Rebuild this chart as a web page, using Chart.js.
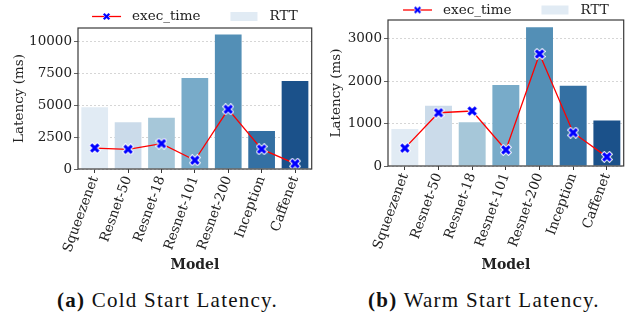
<!DOCTYPE html>
<html>
<head>
<meta charset="utf-8">
<script src="https://cdn.jsdelivr.net/npm/chart.js@4.4.1/dist/chart.umd.min.js"></script>
<style>
  body { margin: 0; background: #fff; width: 630px; height: 316px; position: relative; overflow: hidden; }
  .caja { position: absolute; top: 0; }
  .pie { position: absolute; top: 290px; font-family: "Liberation Serif", serif; font-size: 21px; line-height: 20px;
         color: #111; white-space: nowrap; transform: translateX(-50%); letter-spacing: 1.25px; }
</style>
</head>
<body>
<div class="caja" style="left:0;width:318px;height:274px"><canvas id="graficoFrio" width="318" height="274"></canvas></div>
<div class="caja" style="left:318px;width:312px;height:274px"><canvas id="graficoCaliente" width="312" height="274"></canvas></div>
<div class="pie" style="left:167.5px"><b>(a)</b> Cold Start Latency.</div>
<div class="pie" style="left:484px"><b>(b)</b> Warm Start Latency.</div>
<script>
// Datos
const modelos = ['Squeezenet', 'Resnet-50', 'Resnet-18', 'Resnet-101', 'Resnet-200', 'Inception', 'Caffenet'];
const rttFrio = [4860, 3680, 4040, 7160, 10580, 2990, 6930];
const execFrio = [1650, 1550, 2000, 690, 4700, 1560, 420];
const rttCaliente = [870, 1420, 1030, 1910, 3270, 1890, 1070];
const execCaliente = [420, 1255, 1295, 380, 2640, 785, 215];
const ticksFrio = [0, 2500, 5000, 7500, 10000];
const ticksCaliente = [0, 1000, 2000, 3000];
const maxFrio = 11100;
const maxCaliente = 3440;

// paleta Blues (desaturada como seaborn)
const coloresBarras = ['#e1ebf4', '#cbdbea', '#a6c7d9', '#78abc9', '#538fb6', '#3470a3', '#1b518a'];
const fuente = '"DejaVu Serif", serif';
const colorTexto = '#222';

// marcador X relleno con borde blanco
function crearMarca(tam, borde) {
    const s = Math.ceil(tam + borde * 2 + 2);
    const c = document.createElement('canvas');
    c.width = s; c.height = s;
    const g = c.getContext('2d');
    g.translate(s / 2, s / 2);
    g.rotate(Math.PI / 4);
    const L = tam / 2 * Math.SQRT2 * 0.92, t = tam * 0.19;
    g.beginPath();
    g.moveTo(-t, -L); g.lineTo(t, -L); g.lineTo(t, -t); g.lineTo(L, -t); g.lineTo(L, t); g.lineTo(t, t);
    g.lineTo(t, L); g.lineTo(-t, L); g.lineTo(-t, t); g.lineTo(-L, t); g.lineTo(-L, -t); g.lineTo(-t, -t);
    g.closePath();
    if (borde) { g.lineWidth = borde * 2; g.strokeStyle = '#fff'; g.stroke(); }
    g.fillStyle = '#0000ff';
    g.fill();
    return c;
}
const marca = crearMarca(8, 1);
const marcaLeyenda = crearMarca(6, 0.5);

// leyenda estilo matplotlib centrada sobre el area del grafico
const leyendaMpl = {
    id: 'leyendaMpl',
    afterDraw(chart, args, opts) {
        const { ctx, chartArea } = chart;
        const [linea, barras] = [chart.data.datasets[1], chart.data.datasets[0]];
        ctx.save();
        ctx.font = '13.5px ' + fuente;
        const w1 = ctx.measureText(linea.label).width;
        const w2 = ctx.measureText(barras.label).width;
        const total = 29 + 11 + w1 + 30 + 27 + 12 + w2;
        let x = (chartArea.left + chartArea.right) / 2 - total / 2;
        const y = chartArea.top + opts.dy;
        ctx.strokeStyle = '#ff0000';
        ctx.lineWidth = 1.3;
        ctx.beginPath(); ctx.moveTo(x, y); ctx.lineTo(x + 29, y); ctx.stroke();
        ctx.drawImage(marcaLeyenda, x + 14.5 - marcaLeyenda.width / 2, y - marcaLeyenda.height / 2);
        x += 40;
        ctx.fillStyle = colorTexto;
        ctx.textBaseline = 'middle';
        ctx.fillText(linea.label, x, y);
        x += w1 + 30;
        ctx.fillStyle = coloresBarras[0];
        ctx.fillRect(x, y - 4.5, 27, 9);
        x += 27 + 12;
        ctx.fillStyle = colorTexto;
        ctx.fillText(barras.label, x, y);
        ctx.restore();
    }
};

// marco de los cuatro lados
const marco = {
    id: 'marco',
    afterDraw(chart) {
        const { ctx, chartArea: a } = chart;
        ctx.save();
        ctx.strokeStyle = '#3a3a3a';
        ctx.lineWidth = 1.2;
        ctx.strokeRect(a.left, a.top, a.right - a.left, a.bottom - a.top);
        ctx.restore();
    }
};

function crearGrafico(id, rtt, exec, ticks, yMax, d) {
    const ctx = document.getElementById(id).getContext('2d');
    return new Chart(ctx, {
        type: 'bar',
        data: {
            labels: modelos,
            datasets: [{
                label: 'RTT',
                data: rtt,
                backgroundColor: coloresBarras,
                borderWidth: 0,
                barPercentage: 0.8,
                categoryPercentage: 1,
                order: 2
            }, {
                type: 'line',
                label: 'exec_time',
                data: exec,
                borderColor: '#ff0000',
                borderWidth: 1.3,
                pointStyle: marca,
                pointRadius: 5,
                fill: false,
                order: 1
            }]
        },
        options: {
            responsive: false,
            animation: false,
            layout: { padding: { left: d.padLeft, right: d.padRight, top: d.top, bottom: 0 } },
            plugins: {
                legend: { display: false },
                tooltip: { enabled: false },
                leyendaMpl: { dy: d.dy }
            },
            scales: {
                x: {
                    offset: true,
                    grid: { drawOnChartArea: false, drawTicks: true, tickLength: 4, tickColor: '#3a3a3a', offset: false },
                    border: { display: false },
                    ticks: { color: colorTexto, font: { family: fuente, size: 13.5 }, minRotation: 70, maxRotation: 70, autoSkip: false, padding: 1 },
                    title: { display: true, text: 'Model', color: colorTexto, font: { family: fuente, size: 14, weight: 'bold' }, padding: 0 },
                    afterFit: (s) => { s.height = d.xHeight; }
                },
                y: {
                    min: 0,
                    max: yMax,
                    afterBuildTicks: (s) => { s.ticks = ticks.map(v => ({ value: v })); },
                    grid: { color: '#cccccc', lineWidth: 0.8, tickColor: '#3a3a3a', tickLength: 4 },
                    border: { display: false, dash: [2, 2] },
                    ticks: { color: colorTexto, font: { family: fuente, size: 13.5 }, padding: 2, callback: v => String(v) },
                    title: { display: true, text: 'Latency (ms)', color: colorTexto, font: { family: fuente, size: 13.5 }, padding: 0 },
                    afterFit: (s) => { s.width = d.yWidth; }
                }
            }
        },
        plugins: [leyendaMpl, marco]
    });
}

crearGrafico('graficoFrio', rttFrio, execFrio, ticksFrio, maxFrio,
    { padLeft: 11, padRight: 2, top: 28, xHeight: 105, yWidth: 67, dy: -11.5 });
crearGrafico('graficoCaliente', rttCaliente, execCaliente, ticksCaliente, maxCaliente,
    { padLeft: 10, padRight: 1, top: 20, xHeight: 108, yWidth: 60, dy: -10 });
</script>
</body>
</html>
